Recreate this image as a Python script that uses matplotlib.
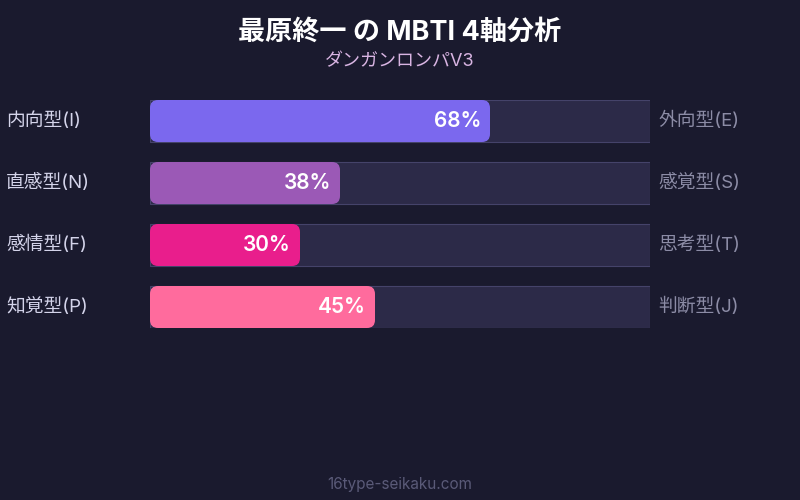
import matplotlib.pyplot as plt
from matplotlib.patches import FancyBboxPatch, Rectangle

plt.rcParams['font.family'] = ['Inter', 'Noto Sans CJK JP', 'DejaVu Sans']

title = "最原終一 の MBTI 4軸分析"
subtitle = "ダンガンロンパV3"
footer = "16type-seikaku.com"

left_labels = ["内向型(I)", "直感型(N)", "感情型(F)", "知覚型(P)"]
right_labels = ["外向型(E)", "感覚型(S)", "思考型(T)", "判断型(J)"]
values = [68, 38, 30, 45]
colors = ["#7b68ee", "#9b59b6", "#e91e8c", "#ff6b9d"]

bg = "#1a1a2e"
track = "#2c2a48"
track_edge = "#45436a"

fig = plt.figure(figsize=(8, 5), dpi=100, facecolor=bg)

# bar area: 150..650 px wide, rows 62 px apart, bars 42 px tall
bar_h = 42 / 62
ax = fig.add_axes([150 / 800, 1 - 328 / 500, 500 / 800, 228 / 500])
ax.set_facecolor(bg)
ax.set_xlim(0, 100)
ax.set_ylim(len(values) - 1 + bar_h / 2, -bar_h / 2)
ax.axis("off")

px_x = 500 / 100
px_y = 62
for i, (v, c) in enumerate(zip(values, colors)):
    ax.add_patch(Rectangle((0, i - bar_h / 2), 100, bar_h, facecolor=track,
                           edgecolor=track_edge, linewidth=0.8))
    ax.add_patch(FancyBboxPatch((0, i - bar_h / 2), v, bar_h,
                                boxstyle="round,pad=0,rounding_size=1.6",
                                mutation_aspect=px_x / px_y,
                                facecolor=c, edgecolor="none"))
    ax.text(v - 1.8, i, f"{v}%", ha="right", va="center", color="white",
            fontsize=15, fontweight="semibold")
    ax.text(-28.8, i, left_labels[i], ha="left", va="center", color="#d4d4ea",
            fontsize=13.5, clip_on=False)
    ax.text(101.6, i, right_labels[i], ha="left", va="center", color="#8c8ca6",
            fontsize=13.5, clip_on=False)

fig.text(0.5, 1 - 33 / 500, title, ha="center", va="center", color="white",
         fontsize=19.5, fontweight="bold")
fig.text(0.5, 1 - 62 / 500, subtitle, ha="center", va="center", color="#d8b4e2",
         fontsize=13)
fig.text(0.5, 1 - 484 / 500, footer, ha="center", va="center", color="#5a5a78",
         fontsize=11)

fig.savefig("out.png", dpi=100, facecolor=bg)
